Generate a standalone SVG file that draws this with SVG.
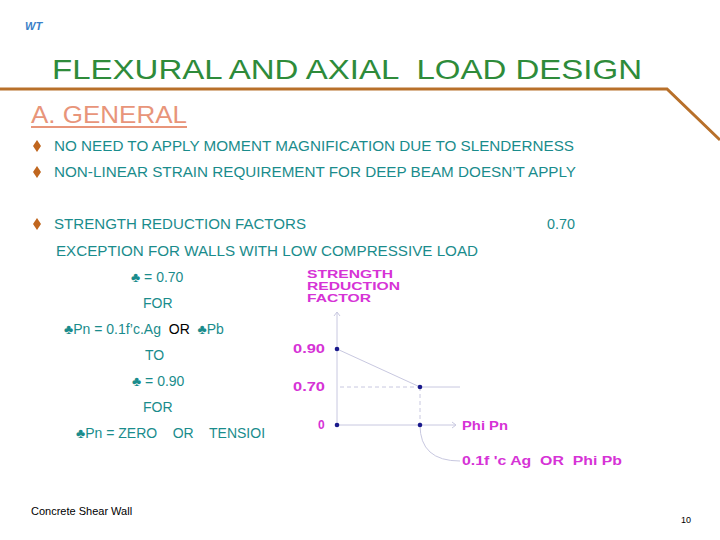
<svg xmlns="http://www.w3.org/2000/svg" width="720" height="540" viewBox="0 0 720 540">
<style>
text{font-family:"Liberation Sans",Arial,sans-serif;white-space:pre}
.t{fill:#1a8c8c;font-size:14px}
.m{fill:#d633d6;font-size:12px;font-weight:bold}
.s{font-size:10.5px}
.b{fill:#c0661e}
.ax{stroke:#c8c8e0;stroke-width:1;fill:none}
.d{fill:#1a1a8c}
</style>
<rect width="720" height="540" fill="#fff"/>
<g id="header">
<text x="25" y="30" font-size="11" font-style="italic" font-weight="bold" fill="#3a7fc8">WT</text>
<text x="52" y="79" font-size="28" fill="#2e8b3a" textLength="590" lengthAdjust="spacingAndGlyphs">FLEXURAL AND AXIAL  LOAD DESIGN</text>
<polyline points="0,89 667,89 720,140" fill="none" stroke="#b8702a" stroke-width="3"/>
<text x="31" y="123" font-size="24" fill="#e8957a" textLength="156" lengthAdjust="spacingAndGlyphs">A. GENERAL</text>
<line x1="31" y1="127" x2="187" y2="127" stroke="#e8957a" stroke-width="2"/>
</g>
<g id="bullets">
<path class="b" d="M37,140 l4,6 -4,6 -4,-6z"/>
<path class="b" d="M37,166 l4,6 -4,6 -4,-6z"/>
<path class="b" d="M37,218 l4,6 -4,6 -4,-6z"/>
<text class="t" x="54" y="151" textLength="520" lengthAdjust="spacingAndGlyphs">NO NEED TO APPLY MOMENT MAGNIFICATION DUE TO SLENDERNESS</text>
<text class="t" x="54" y="177" textLength="522" lengthAdjust="spacingAndGlyphs">NON-LINEAR STRAIN REQUIREMENT FOR DEEP BEAM DOESN’T APPLY</text>
<text class="t" x="54" y="229" textLength="252" lengthAdjust="spacingAndGlyphs">STRENGTH REDUCTION FACTORS</text>
<text class="t" x="547" y="229" textLength="28" lengthAdjust="spacingAndGlyphs">0.70</text>
<text class="t" x="56" y="256" textLength="422" lengthAdjust="spacingAndGlyphs">EXCEPTION FOR WALLS WITH LOW COMPRESSIVE LOAD</text>
</g>
<g id="conditions">
<text class="t" x="131" y="282">♣ = 0.70</text>
<text class="t" x="143" y="308">FOR</text>
<text class="t" x="64" y="334">♣Pn = 0.1f’c.Ag  <tspan fill="#000">OR</tspan>  ♣Pb</text>
<text class="t" x="145" y="360">TO</text>
<text class="t" x="132" y="386">♣ = 0.90</text>
<text class="t" x="143" y="412">FOR</text>
<text class="t" x="76" y="438">♣Pn = ZERO    OR    TENSIOI</text>
</g>
<g id="chart">
<text class="m s" x="307" y="278" textLength="86" lengthAdjust="spacingAndGlyphs">STRENGTH</text>
<text class="m s" x="307" y="290" textLength="93" lengthAdjust="spacingAndGlyphs">REDUCTION</text>
<text class="m s" x="307" y="302" textLength="64" lengthAdjust="spacingAndGlyphs">FACTOR</text>
<text class="m" x="293" y="353" textLength="32" lengthAdjust="spacingAndGlyphs">0.90</text>
<text class="m" x="293" y="391" textLength="32" lengthAdjust="spacingAndGlyphs">0.70</text>
<text class="m" x="318" y="429">0</text>
<text class="m" x="462" y="430" textLength="46" lengthAdjust="spacingAndGlyphs">Phi Pn</text>
<text class="m" x="462" y="465" textLength="160" lengthAdjust="spacingAndGlyphs">0.1f 'c Ag  OR  Phi Pb</text>
</g>
<g id="connectors">
<line class="ax" x1="337" y1="312" x2="337" y2="425"/>
<polyline class="ax" points="334,316 337,312 340,316"/>
<line class="ax" x1="337" y1="425" x2="455" y2="425"/>
<polyline class="ax" points="452,422 456,425 452,428"/>
<line class="ax" x1="337" y1="349" x2="420" y2="387"/>
<line class="ax" x1="340" y1="387" x2="420" y2="387" stroke-dasharray="4,3"/>
<line class="ax" x1="420" y1="387" x2="460" y2="387"/>
<line class="ax" x1="420" y1="387" x2="420" y2="425" stroke-dasharray="4,3"/>
<path class="ax" d="M420,425 Q420,461 460,461"/>
<circle class="d" cx="337" cy="349" r="2.3"/>
<circle class="d" cx="420" cy="387" r="2.3"/>
<circle class="d" cx="337" cy="425" r="2.3"/>
<circle class="d" cx="420" cy="425" r="2.3"/>
</g>
<g id="footer">
<text x="31" y="515" font-size="11" fill="#000">Concrete Shear Wall</text>
<text x="681" y="523" font-size="9" fill="#000">10</text>
</g>
</svg>
